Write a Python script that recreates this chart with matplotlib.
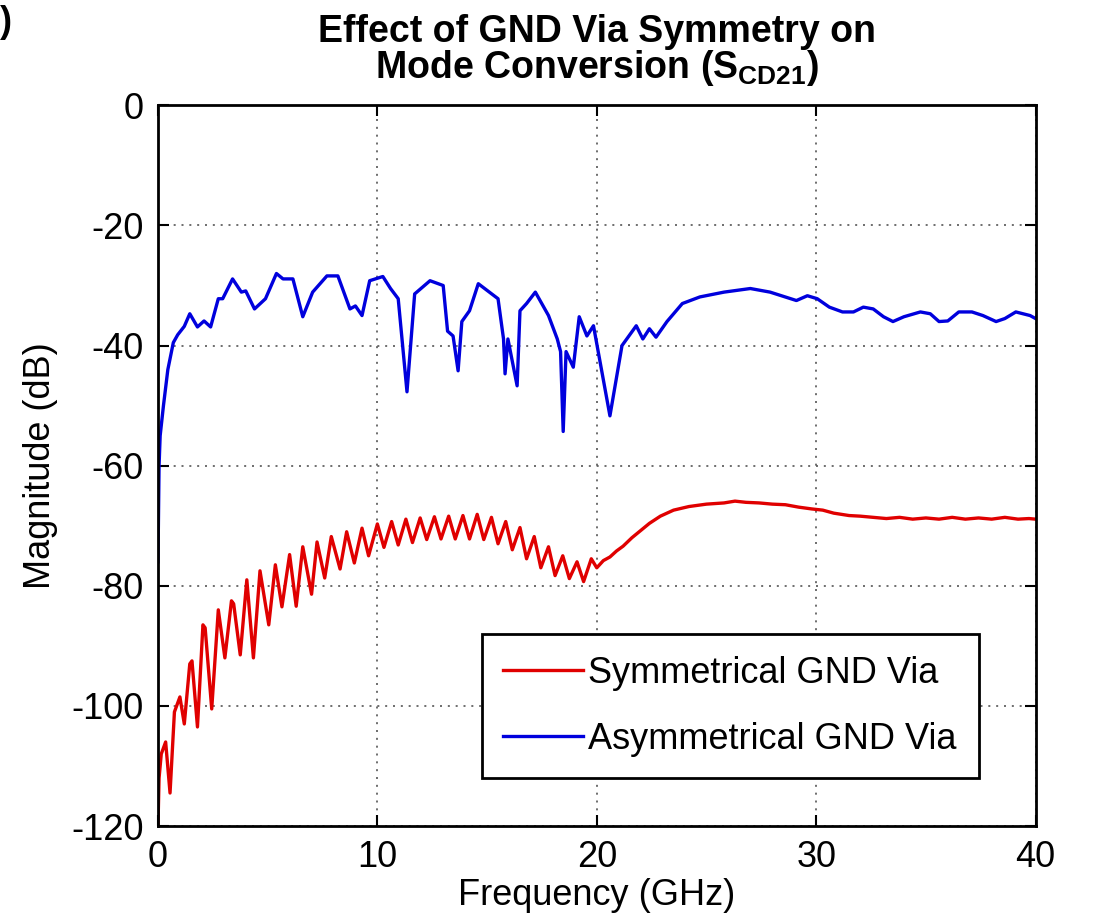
import matplotlib
matplotlib.use("Agg")
import matplotlib.pyplot as plt
from matplotlib import font_manager

# Frequency (GHz) and |S_CD21| (dB) for the symmetrical ground-via layout
freq_sym = [0.00, 0.05, 0.15, 0.35, 0.55, 0.75, 1.00, 1.20, 1.45, 1.55, 1.80,
            2.05, 2.15, 2.45, 2.75, 3.05, 3.35, 3.45, 3.75, 4.05, 4.35, 4.65,
            5.05, 5.35, 5.65, 6.00, 6.30, 6.60, 7.00, 7.25, 7.60, 7.90, 8.30,
            8.60, 8.95, 9.30, 9.60, 10.00, 10.30, 10.65, 10.95, 11.30, 11.60,
            11.95, 12.25, 12.60, 12.90, 13.25, 13.55, 13.90, 14.20, 14.55,
            14.85, 15.20, 15.50, 15.85, 16.15, 16.50, 16.80, 17.15, 17.45,
            17.80, 18.10, 18.45, 18.75, 19.10, 19.40, 19.75, 20.00, 20.30,
            20.60, 20.90, 21.20, 21.60, 22.00, 22.40, 22.90, 23.50, 24.20,
            25.00, 25.80, 26.30, 26.80, 27.40, 28.00, 28.60, 29.20, 29.80,
            30.30, 30.80, 31.50, 32.00, 32.60, 33.20, 33.80, 34.40, 35.00,
            35.60, 36.20, 36.80, 37.40, 38.00, 38.60, 39.20, 39.70, 40.00]
mag_sym = [-120.0, -112.0, -108.0, -106.0, -114.5, -101.0, -98.5, -103.0,
           -93.0, -92.5, -103.5, -86.5, -87.0, -100.5, -84.0, -92.0, -82.5,
           -83.0, -91.5, -79.0, -92.0, -77.5, -86.5, -76.5, -83.5, -74.8,
           -83.4, -73.5, -81.4, -72.7, -78.7, -71.8, -77.2, -71.0, -76.2,
           -70.4, -75.0, -69.7, -73.6, -69.3, -73.2, -68.9, -72.8, -68.7,
           -72.3, -68.5, -72.2, -68.4, -72.2, -68.3, -72.2, -68.1, -72.3,
           -68.6, -73.0, -69.3, -74.0, -70.3, -75.5, -71.8, -77.0, -73.5,
           -78.3, -75.0, -78.8, -76.0, -79.3, -75.5, -77.0, -75.8, -75.2,
           -74.2, -73.4, -72.0, -70.8, -69.6, -68.4, -67.4, -66.8, -66.4,
           -66.2, -65.9, -66.1, -66.2, -66.4, -66.5, -66.9, -67.2, -67.4,
           -67.9, -68.3, -68.4, -68.6, -68.8, -68.6, -68.9, -68.7, -68.9,
           -68.6, -68.9, -68.7, -68.9, -68.6, -68.9, -68.8, -68.9]

# Frequency (GHz) and |S_CD21| (dB) for the asymmetrical ground-via layout
freq_asym = [0.00, 0.05, 0.10, 0.25, 0.45, 0.70, 0.90, 1.20, 1.45, 1.80,
             2.10, 2.40, 2.75, 2.95, 3.40, 3.80, 4.00, 4.40, 4.90, 5.40,
             5.70, 6.15, 6.60, 7.05, 7.70, 8.20, 8.75, 9.00, 9.30, 9.65,
             10.25, 10.60, 10.95, 11.35, 11.70, 12.40, 13.00, 13.20, 13.45,
             13.68, 13.85, 14.20, 14.60, 15.50, 15.75, 15.82, 15.95, 16.37,
             16.50, 16.80, 17.20, 17.80, 18.20, 18.35, 18.47, 18.60, 18.93,
             19.20, 19.55, 19.85, 20.60, 21.15, 21.80, 22.10, 22.40, 22.70,
             23.20, 23.90, 24.70, 25.80, 27.00, 27.90, 29.10, 29.60, 30.05,
             30.60, 31.20, 31.70, 32.15, 32.60, 33.07, 33.50, 34.00, 34.75,
             35.20, 35.60, 36.00, 36.50, 37.10, 37.60, 38.20, 38.60, 39.10,
             39.75, 40.00]
mag_asym = [-76.0, -60.0, -55.0, -50.0, -44.0, -39.5, -38.2, -36.8, -34.7,
            -36.9, -35.9, -36.9, -32.2, -32.2, -28.9, -31.1, -30.9, -33.9,
            -32.2, -28.0, -28.9, -28.9, -35.2, -31.1, -28.4, -28.4, -33.9,
            -33.4, -35.0, -29.2, -28.5, -30.5, -32.2, -47.7, -31.4, -29.2,
            -30.0, -37.6, -38.4, -44.2, -36.0, -34.2, -29.7, -32.2, -38.9,
            -44.7, -38.9, -46.7, -34.2, -33.0, -31.1, -35.0, -38.9, -41.0,
            -54.3, -41.0, -43.6, -35.2, -38.4, -36.7, -51.7, -40.0, -36.7,
            -38.9, -37.2, -38.6, -36.0, -33.0, -31.9, -31.1, -30.5, -31.1,
            -32.5, -31.7, -32.2, -33.6, -34.4, -34.4, -33.6, -33.9, -35.2,
            -36.0, -35.2, -34.4, -34.7, -36.0, -35.9, -34.4, -34.4, -35.0,
            -36.0, -35.5, -34.4, -35.0, -35.5]

x_ticks = [0, 10, 20, 30, 40]
y_ticks = [0, -20, -40, -60, -80, -100, -120]
series_labels = ["Symmetrical GND Via", "Asymmetrical GND Via"]

installed = {f.name for f in font_manager.fontManager.ttflist}
family = "Liberation Sans" if "Liberation Sans" in installed else "DejaVu Sans"
plt.rcParams["font.family"] = [family, "DejaVu Sans"]
plt.rcParams["mathtext.fontset"] = "custom"
plt.rcParams["mathtext.rm"] = family
plt.rcParams["mathtext.bf"] = family + ":bold"
plt.rcParams["axes.unicode_minus"] = False

fig = plt.figure(figsize=(10.97, 9.24), dpi=100)
ax = fig.add_axes([0.144, 0.106, 0.8, 0.780])

ax.plot(freq_sym, mag_sym, color="#e00000", lw=2.4, label=series_labels[0])
ax.plot(freq_asym, mag_asym, color="#0000dd", lw=2.4, label=series_labels[1])

ax.set_xlim(0, 40)
ax.set_ylim(-120, 0)
ax.set_xticks(x_ticks)
ax.set_yticks(y_ticks)
ax.tick_params(direction="in", length=8, width=1.5, labelsize=26, pad=10,
               top=True, right=True)
ax.grid(True, linestyle=(0, (1.2, 3.5)), color="#555555", linewidth=1.2)
for sp in ax.spines.values():
    sp.set_linewidth(2.0)

ax.set_xlabel("Frequency (GHz)", fontsize=26, labelpad=2)
ax.set_ylabel("Magnitude (dB)", fontsize=26, labelpad=10)
ax.set_title("Effect of GND Via Symmetry on\nMode Conversion (S$_{\\mathbf{CD21}}$)",
             fontsize=27, fontweight="bold", pad=20, linespacing=0.92)

leg = ax.legend(loc="lower right", bbox_to_anchor=(0.935, 0.066), fontsize=26,
                frameon=True, fancybox=False, edgecolor="black", framealpha=1,
                handlelength=2.2, handletextpad=0.15, borderpad=0.6,
                labelspacing=0.85, borderaxespad=0)
leg.get_frame().set_linewidth(2.0)

fig.text(0.0, 0.995, ")", fontsize=26, fontweight="bold", va="top", ha="left")

fig.savefig("out.png", dpi=100)
